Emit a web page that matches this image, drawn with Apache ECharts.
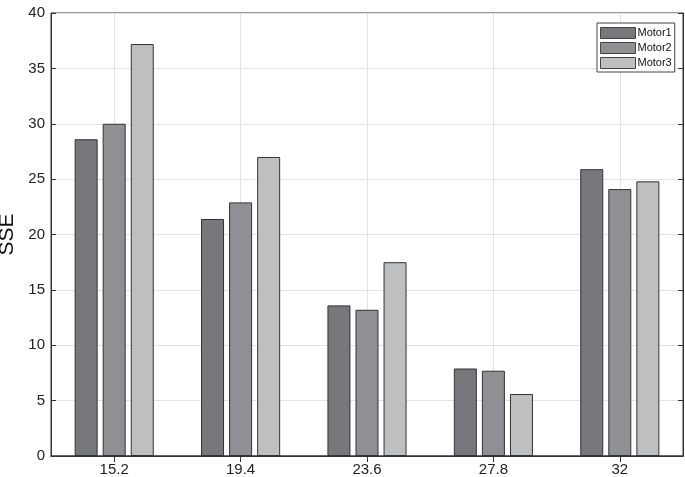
<!DOCTYPE html>
<html><head><meta charset="utf-8">
<script src="https://cdn.jsdelivr.net/npm/echarts@6/dist/echarts.min.js"></script>
<style>html,body{margin:0;padding:0;background:#fff}#c{width:685px;height:477px}</style>
</head><body><div id="c"></div>
<script>
const categories = ['15.2', '19.4', '23.6', '27.8', '32'];
const motor1 = [28.6, 21.4, 13.6, 7.9, 25.9];
const motor2 = [30.0, 22.9, 13.2, 7.7, 24.1];
const motor3 = [37.2, 27.0, 17.5, 5.6, 24.8];
const seriesNames = ['Motor1', 'Motor2', 'Motor3'];
const yTicks = {min: 0, max: 40, interval: 5};

const font = "'Liberation Sans', Arial, Helvetica, sans-serif";
const colors = ['#77787c', '#8f9094', '#bebfc1'];
const chart = echarts.init(document.getElementById('c'), null, {renderer: 'canvas'});
const mk = (name, data, i) => ({
  name, type: 'bar', data, barWidth: 23, barGap: '22%',
  xAxisIndex: 0, yAxisIndex: 0,
  itemStyle: {color: colors[i], borderColor: '#333', borderWidth: 1},
  emphasis: {disabled: true}
});
chart.setOption({
  animation: false,
  textStyle: {fontFamily: font},
  grid: {left: 51, right: 2, top: 13, bottom: 21, containLabel: false, outerBoundsMode: 'none',
    show: true, borderColor: '#333', borderWidth: 1, backgroundColor: 'transparent'},
  legend: {
    data: seriesNames, orient: 'vertical', left: 597, top: 23,
    backgroundColor: '#fff', borderColor: '#444', borderWidth: 1, borderRadius: 0,
    padding: [4, 3, 3, 3], itemWidth: 35, itemHeight: 11, itemGap: 3,
    icon: 'rect',
    itemStyle: {borderWidth: 1, borderColor: '#444'},
    textStyle: {fontSize: 11, color: '#111', fontFamily: font, padding: [0, 0, 0, -3]}
  },
  xAxis: [{
    type: 'category', data: categories, boundaryGap: true, position: 'bottom',
    axisLine: {lineStyle: {color: '#555', width: 1.5}},
    axisTick: {show: true, inside: true, alignWithLabel: true, length: 6, lineStyle: {color: '#333'}},
    axisLabel: {fontSize: 15, color: '#222', margin: 6, fontFamily: font},
    splitLine: {show: true, alignWithLabel: true, lineStyle: {color: '#e3e3e3', width: 1}}
  }, {
    type: 'category', data: categories, boundaryGap: true, position: 'top',
    axisLine: {show: true, lineStyle: {color: '#333'}},
    axisTick: {show: true, inside: true, alignWithLabel: true, length: 6, lineStyle: {color: '#333'}},
    axisLabel: {show: false}, splitLine: {show: false}
  }],
  yAxis: [{
    type: 'value', min: yTicks.min, max: yTicks.max, interval: yTicks.interval, position: 'left',
    name: 'SSE', nameLocation: 'middle', nameGap: 24,
    nameTextStyle: {fontSize: 21, color: '#111', fontFamily: font},
    axisLine: {show: true, lineStyle: {color: '#333'}},
    axisTick: {show: true, inside: true, length: 5, lineStyle: {color: '#333'}},
    axisLabel: {fontSize: 15, color: '#222', margin: 6, fontFamily: font},
    splitLine: {show: true, lineStyle: {color: '#e3e3e3', width: 1}}
  }, {
    type: 'value', min: yTicks.min, max: yTicks.max, interval: yTicks.interval, position: 'right',
    axisLine: {show: true, lineStyle: {color: '#333'}},
    axisTick: {show: true, inside: true, length: 5, lineStyle: {color: '#333'}},
    axisLabel: {show: false}, splitLine: {show: false}
  }],
  series: [mk(seriesNames[0], motor1, 0), mk(seriesNames[1], motor2, 1), mk(seriesNames[2], motor3, 2)]
});
</script></body></html>
